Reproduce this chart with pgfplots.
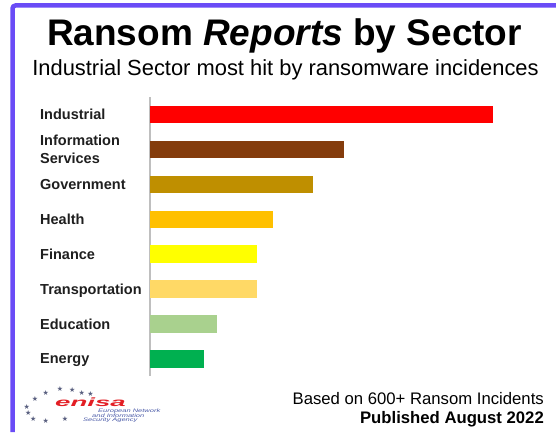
\documentclass[border=0pt]{standalone}
\usepackage{pgfplots}
\pgfplotsset{compat=1.18}
\usepackage{graphicx}
\usepackage{fontspec}
\setmainfont{Liberation Sans}
\newfontfamily\djv{DejaVu Sans}
\definecolor{framec}{HTML}{6A4CF6}
\definecolor{cInd}{HTML}{FF0000}
\definecolor{cInf}{HTML}{843C0C}
\definecolor{cGov}{HTML}{BF8F00}
\definecolor{cHea}{HTML}{FFC000}
\definecolor{cFin}{HTML}{FFFF00}
\definecolor{cTra}{HTML}{FFD966}
\definecolor{cEdu}{HTML}{A9D18E}
\definecolor{cEne}{HTML}{00B050}
\definecolor{enisared}{HTML}{E31E24}
\definecolor{enisablue}{HTML}{4A5AA8}
\definecolor{starc}{HTML}{5A6080}
\definecolor{labc}{HTML}{1F1F1F}
\begin{document}
\begin{tikzpicture}[x=1pt,y=1pt]
\useasboundingbox (0,0) rectangle (556,432);
\fill[white] (0,0) rectangle (556,432);
% frame
\draw[framec, line width=4.5pt, rounded corners=3pt] (12.5,0) |- (556,426.5);
% title
\node[anchor=base, inner sep=0pt, font=\bfseries\fontsize{37}{40}\selectfont] at (284.5,386.3) {Ransom \textit{Reports} by Sector};
\node[anchor=base, inner sep=0pt, font=\fontsize{21.9}{24}\selectfont] at (285.5,356.3) {Industrial Sector most hit by ransomware incidences};
% chart
\begin{axis}[
  at={(150pt,55.8pt)}, anchor=south west,
  scale only axis, width=350pt, height=279pt,
  xmin=0, xmax=350, ymin=-0.5, ymax=7.5, y dir=reverse,
  axis x line=none, axis y line*=left,
  y axis line style={draw=black!25, line width=1.3pt, -},
  ytick={0,1,2,3,4,5,6,7},
  yticklabels={Industrial,{Information\\Services},Government,Health,Finance,{\raisebox{0pt}[\height][0pt]{Transportation}},Education,{\raisebox{0pt}[\height][0pt]{Energy}}},
  major tick length=0pt,
  yticklabel style={anchor=west, xshift=-110pt, inner sep=0pt, align=left, text=labc,
    font=\bfseries\fontsize{14.5}{17.5}\selectfont},
  clip=false,
]
\addplot[xbar, bar width=17.5pt, bar shift=0pt, fill=cInd, draw=none] coordinates {(343.3,0)};
\addplot[xbar, bar width=17.5pt, bar shift=0pt, fill=cInf, draw=none] coordinates {(194.3,1)};
\addplot[xbar, bar width=17.5pt, bar shift=0pt, fill=cGov, draw=none] coordinates {(162.7,2)};
\addplot[xbar, bar width=17.5pt, bar shift=0pt, fill=cHea, draw=none] coordinates {(122.7,3)};
\addplot[xbar, bar width=17.5pt, bar shift=0pt, fill=cFin, draw=none] coordinates {(107.3,4)};
\addplot[xbar, bar width=17.5pt, bar shift=0pt, fill=cTra, draw=none] coordinates {(107.0,5)};
\addplot[xbar, bar width=17.5pt, bar shift=0pt, fill=cEdu, draw=none] coordinates {(66.7,6)};
\addplot[xbar, bar width=17.5pt, bar shift=0pt, fill=cEne, draw=none] coordinates {(54.0,7)};
\end{axis}
% footer
\node[anchor=base east, inner sep=0pt, font=\fontsize{16.7}{18}\selectfont] at (544,28) {Based on 600+ Ransom Incidents};
\node[anchor=base east, inner sep=0pt, font=\bfseries\fontsize{16.7}{18}\selectfont] at (544,9) {Published August 2022};
% logo
\foreach \p in {(45.7,38.7),(60,42.7),(72.3,42),(81.7,39.5),(90.5,38.5),(35,32.7),(26.7,25.3),(28.3,18.7),(33.3,12.7),(45.7,11.3),(65,12.7)}
  \node[text=starc, inner sep=0pt, font=\djv\fontsize{7}{7}\selectfont] at \p {★};
\node[anchor=base west, inner sep=0pt, text=enisared] at (55,26) {\scalebox{2.3}[1]{\bfseries\itshape\fontsize{12}{12}\selectfont enisa}};
\node[anchor=base west, inner sep=0pt, text=enisablue] at (98,19.5) {\scalebox{1.5}[1]{\itshape\fontsize{5}{5}\selectfont European Network}};
\node[anchor=base west, inner sep=0pt, text=enisablue] at (92,15) {\scalebox{1.5}[1]{\itshape\fontsize{5}{5}\selectfont and Information}};
\node[anchor=base west, inner sep=0pt, text=enisablue] at (83,10.5) {\scalebox{1.5}[1]{\itshape\fontsize{5}{5}\selectfont Security Agency}};
\end{tikzpicture}
\end{document}
